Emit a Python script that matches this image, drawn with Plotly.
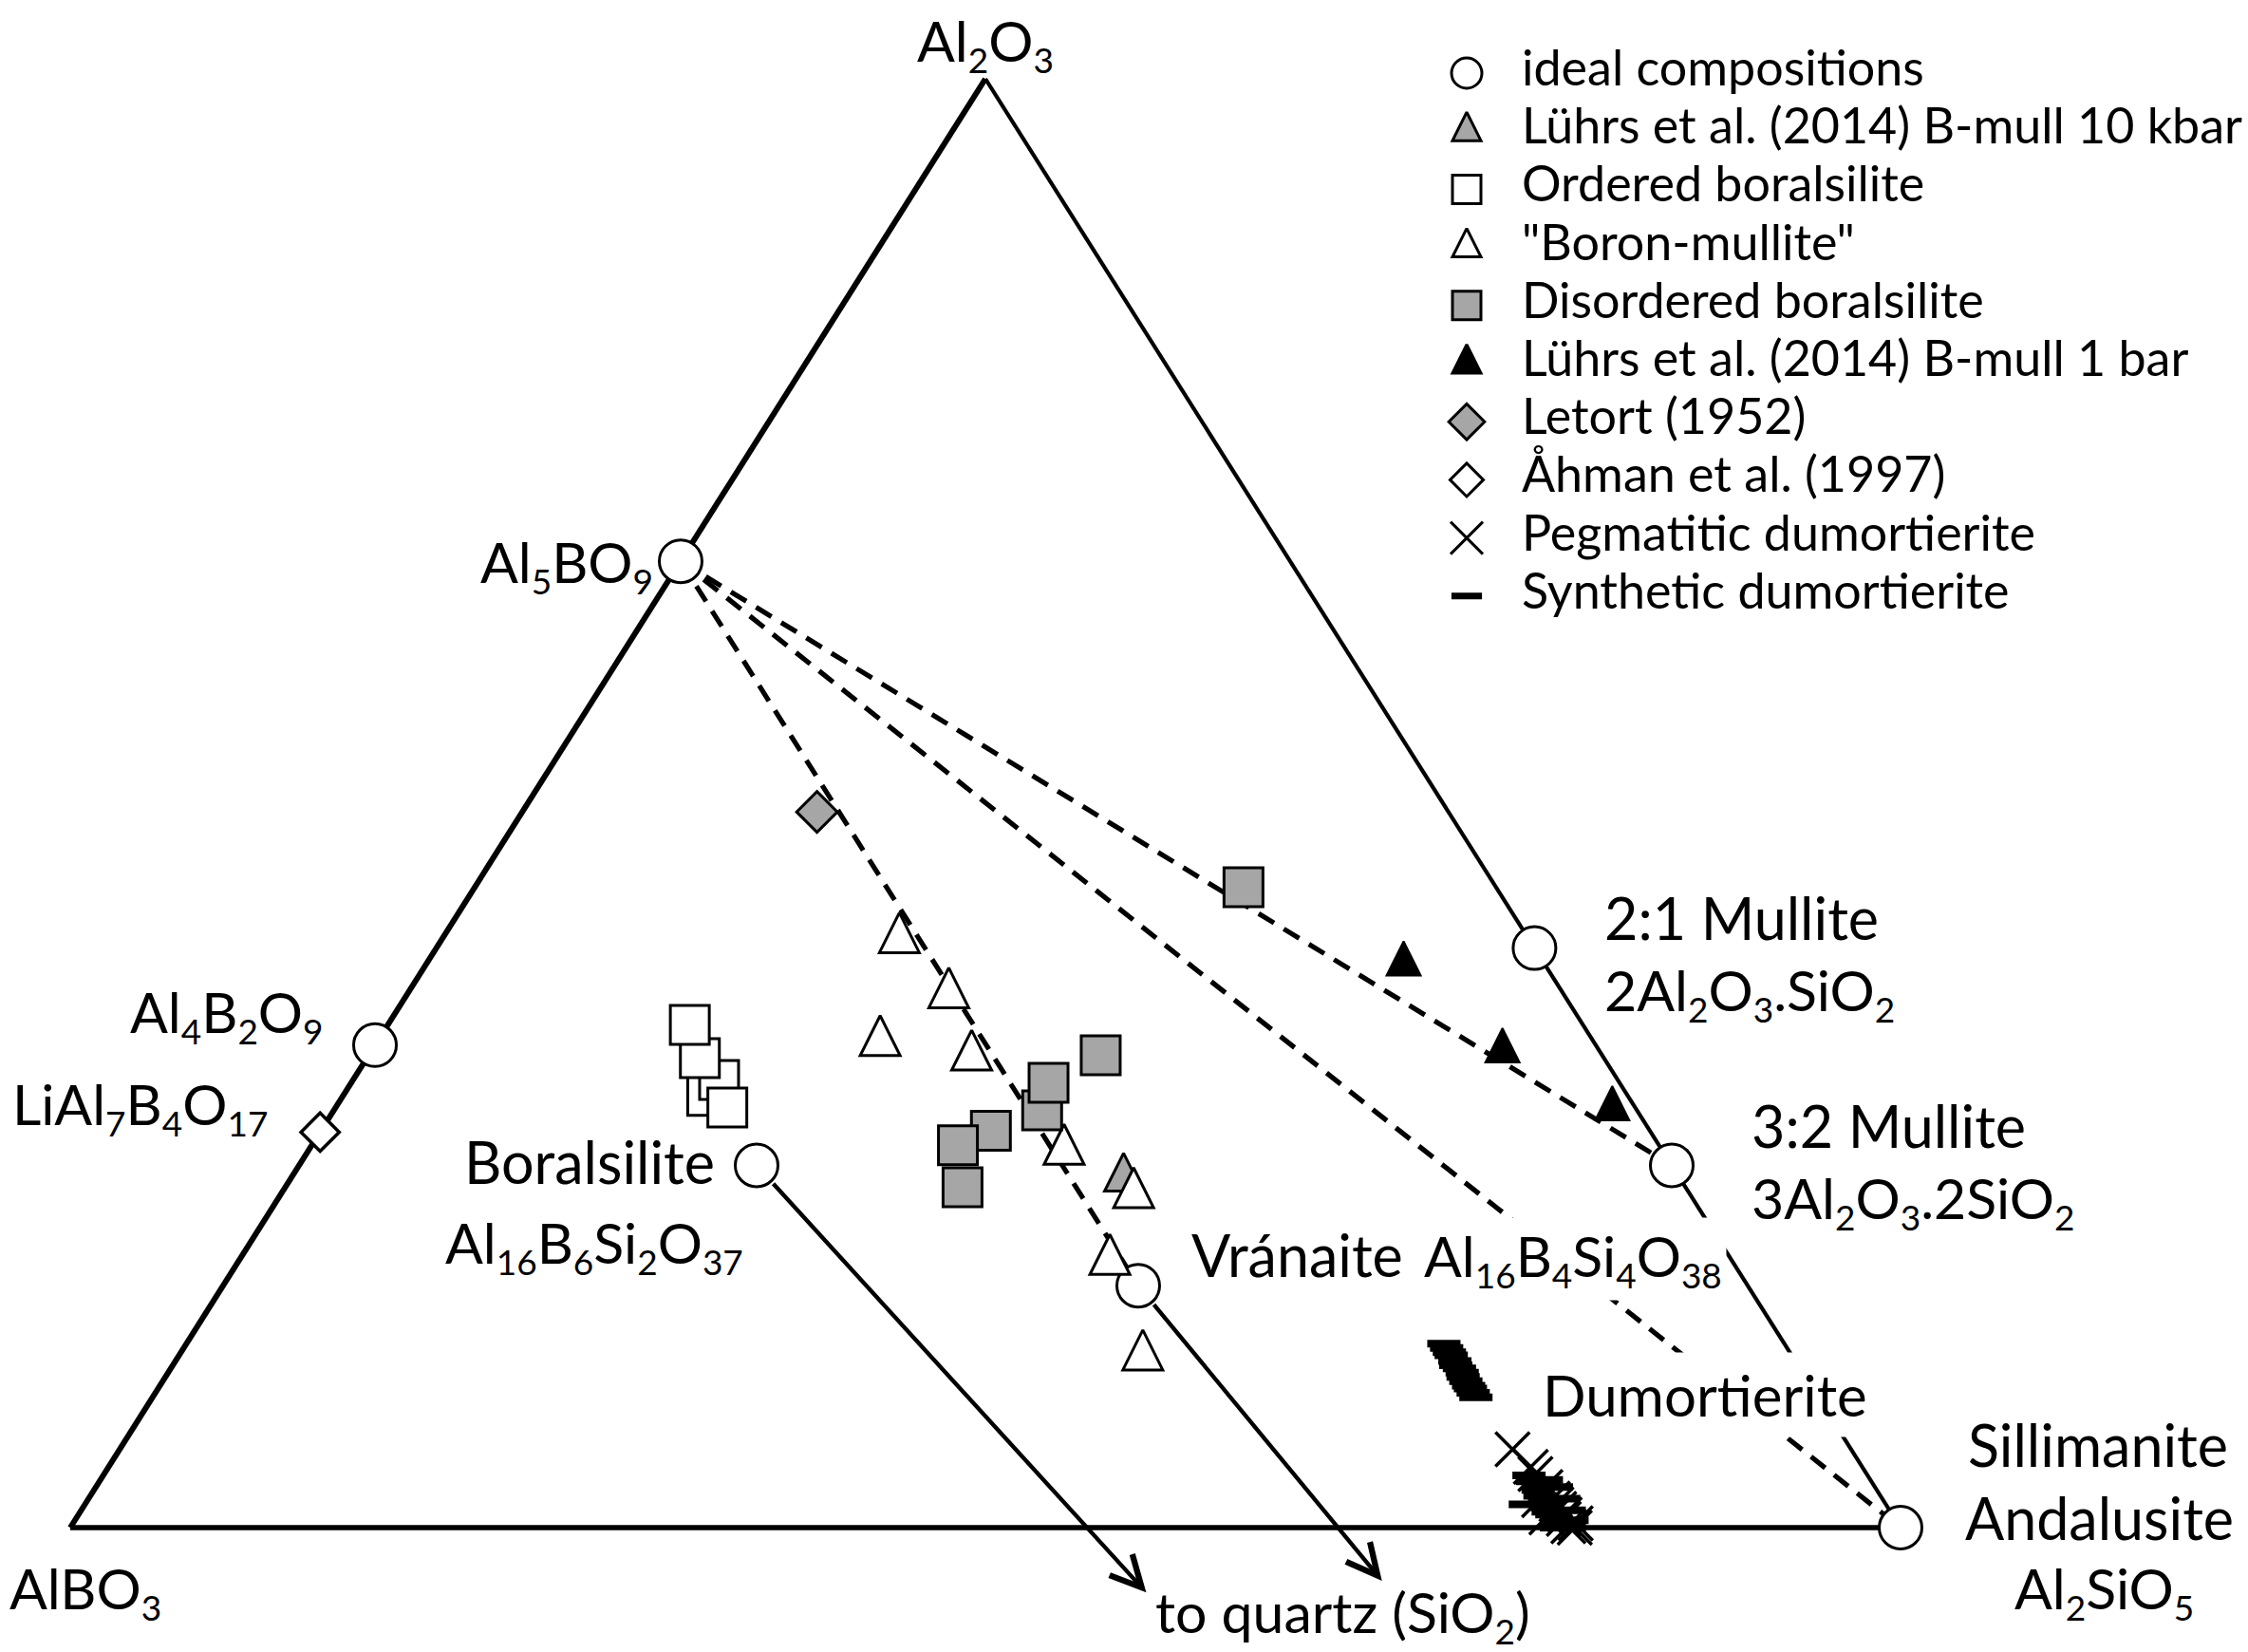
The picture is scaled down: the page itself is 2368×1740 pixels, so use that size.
import plotly.graph_objects as go

W, H = 2368, 1740
FONT = "Lato"
LABEL_SIZE = 61
FORMULA_SIZE = 59
SUB_PX = 37
KEY_SIZE = 52

# ---------------------------------------------------------------------------
# Compositions as cation fractions of Al2O3 and Al2SiO5 (AlBO3 = remainder)
# ---------------------------------------------------------------------------
ideal_names = ["Al5BO9", "Al4B2O9", "Boralsilite", "Vránaite",
               "2:1 Mullite", "3:2 Mullite", "Al2SiO5"]
ideal_al2o3 = [0.667, 0.333, 0.250, 0.167, 0.400, 0.250, 0.000]
ideal_al2sio5 = [0.000, 0.000, 0.250, 0.500, 0.600, 0.750, 1.000]

luhrs10_al2o3 = [0.241]
luhrs10_al2sio5 = [0.455]

ordered_al2o3 = [0.298, 0.309, 0.290, 0.324, 0.347]
ordered_al2sio5 = [0.199, 0.200, 0.214, 0.182, 0.165]

boronmullite_al2o3 = [0.406, 0.368, 0.335, 0.325, 0.260, 0.230, 0.184, 0.118]
boronmullite_al2sio5 = [0.250, 0.296, 0.275, 0.330, 0.413, 0.466, 0.476, 0.527]

disordered_al2o3 = [0.442, 0.326, 0.288, 0.307, 0.274, 0.264, 0.235]
disordered_al2sio5 = [0.420, 0.400, 0.387, 0.381, 0.366, 0.353, 0.370]

luhrs1_al2o3 = [0.389, 0.329, 0.289]
luhrs1_al2sio5 = [0.534, 0.618, 0.698]

letort_al2o3 = [0.494]
letort_al2sio5 = [0.161]

ahman_al2o3 = [0.273]
ahman_al2sio5 = [0.000]

pegmatitic_al2o3 = [0.054, 0.042, 0.037, 0.028, 0.020, 0.019, 0.016, 0.013,
                    0.009, 0.007, 0.006, 0.003, 0.001, 0.000]
pegmatitic_al2sio5 = [0.761, 0.777, 0.782, 0.792, 0.800, 0.793, 0.804, 0.807,
                      0.812, 0.803, 0.813, 0.821, 0.818, 0.822]

synthetic_al2o3 = [0.127, 0.124, 0.121, 0.119, 0.115, 0.112, 0.110, 0.107, 0.104,
                   0.101, 0.098, 0.096, 0.093, 0.090,
                   0.036, 0.033, 0.032, 0.029, 0.028, 0.026, 0.022, 0.020, 0.019,
                   0.017, 0.016, 0.014, 0.012, 0.011, 0.009, 0.009, 0.006, 0.005,
                   0.004, 0.003, 0.001, 0.000, 0.000]
synthetic_al2sio5 = [0.687, 0.690, 0.693, 0.695, 0.699, 0.701, 0.704, 0.707, 0.709,
                     0.712, 0.715, 0.717, 0.720, 0.723,
                     0.779, 0.790, 0.783, 0.790, 0.798, 0.789, 0.792, 0.806, 0.796,
                     0.798, 0.787, 0.800, 0.813, 0.802, 0.807, 0.805, 0.809, 0.818,
                     0.812, 0.814, 0.816, 0.812, 0.819]

# quartz in the same cation basis lies outside the triangle
sio2_al2o3, sio2_al2sio5 = -2.0, 3.0
arrow_sources = ["Boralsilite", "Vránaite"]
arrow_fraction = [0.131, 0.094]   # length of each arrow along its join to SiO2

tie_lines = [("Al5BO9", "Vránaite"), ("Al5BO9", "Al2SiO5"), ("Al5BO9", "3:2 Mullite")]

key_labels = ["ideal compositions", "Lührs et al. (2014) B-mull 10 kbar",
              "Ordered boralsilite", "\"Boron-mullite\"", "Disordered boralsilite",
              "Lührs et al. (2014) B-mull 1 bar", "Letort (1952)", "Åhman et al. (1997)",
              "Pegmatitic dumortierite", "Synthetic dumortierite"]

# ---------------------------------------------------------------------------
# page geometry of the diagram (pixels)
# ---------------------------------------------------------------------------
APEX_Y, BASE_Y = 83, 1609
LEFT_X, RIGHT_X = 74, 2002
SX = RIGHT_X - LEFT_X
SY = BASE_Y - APEX_Y

KEY_SYM_X, KEY_TEXT_X = 1545, 1603
KEY_ROW0_Y, KEY_PITCH = 77, 61.2

GRAY = "#a6a6a6"


def to_xy(al2o3, al2sio5):
    xs = [c + a / 2 for a, c in zip(al2o3, al2sio5)]
    ys = list(al2o3)
    return xs, ys


def ideal_point(name):
    i = ideal_names.index(name)
    return ideal_al2o3[i], ideal_al2sio5[i]


def sub(n):
    return f"<sub><span style='font-size:{SUB_PX}px'>{n}</span></sub>"


fig = go.Figure()

# triangle edges: AlBO3-Al2O3, Al2O3-Al2SiO5, AlBO3-Al2SiO5
edges = [((0, 0), (1, 0), 6), ((1, 0), (0, 1), 4.2), ((0, 0), (0, 1), 5.5)]
for (a0, c0), (a1, c1), w in edges:
    xs, ys = to_xy([a0, a1], [c0, c1])
    fig.add_trace(go.Scatter(x=xs, y=ys, mode="lines", showlegend=False,
                             hoverinfo="skip", line=dict(color="black", width=w)))

# dashed joins from Al5BO9
for p, q in tie_lines:
    a0, c0 = ideal_point(p)
    a1, c1 = ideal_point(q)
    xs, ys = to_xy([a0, a1], [c0, c1])
    fig.add_trace(go.Scatter(x=xs, y=ys, mode="lines", showlegend=False,
                             hoverinfo="skip",
                             line=dict(color="black", width=5.2, dash="19px,12px")))

TRI = dict(symbol="arrow-down", angle=180)

styles = {
    "ideal": dict(symbol="circle", color="white", size=45, lw=3),
    "luhrs10": dict(color=GRAY, size=40, lw=3, **TRI),
    "ordered": dict(symbol="square", color="white", size=41, lw=3),
    "boronmullite": dict(color="white", size=42, lw=3, **TRI),
    "disordered": dict(symbol="square", color=GRAY, size=41, lw=3),
    "luhrs1": dict(color="black", size=36, lw=2, **TRI),
    "letort": dict(symbol="diamond", color=GRAY, size=33, lw=3),
    "ahman": dict(symbol="diamond", color="white", size=31, lw=3.5),
    "pegmatitic": dict(symbol="x-thin", color="black", size=36, lw=3.5),
    "synthetic": dict(symbol="line-ew", color="black", size=25, lw=8),
}

series = [
    ("ideal", ideal_al2o3, ideal_al2sio5),
    ("ordered", ordered_al2o3, ordered_al2sio5),
    ("luhrs10", luhrs10_al2o3, luhrs10_al2sio5),
    ("boronmullite", boronmullite_al2o3, boronmullite_al2sio5),
    ("disordered", disordered_al2o3, disordered_al2sio5),
    ("luhrs1", luhrs1_al2o3, luhrs1_al2sio5),
    ("letort", letort_al2o3, letort_al2sio5),
    ("ahman", ahman_al2o3, ahman_al2sio5),
    ("pegmatitic", pegmatitic_al2o3, pegmatitic_al2sio5),
    ("synthetic", synthetic_al2o3, synthetic_al2sio5),
]
key_order = ["ideal", "luhrs10", "ordered", "boronmullite", "disordered",
             "luhrs1", "letort", "ahman", "pegmatitic", "synthetic"]


def marker_for(st, size, lw=None):
    m = dict(symbol=st["symbol"], color=st["color"], size=size,
             line=dict(color="black", width=st["lw"] if lw is None else lw))
    if "angle" in st:
        m["angle"] = st["angle"]
        m["standoff"] = size * 2 / 3
    return m


for key, al, si in series:
    st = styles[key]
    xs, ys = to_xy(al, si)
    fig.add_trace(go.Scatter(x=xs, y=ys, mode="markers", showlegend=False,
                             name=key_labels[key_order.index(key)],
                             marker=marker_for(st, st["size"]), cliponaxis=False))

# key: symbols in column 0, labels starting at column 1
key_sizes = {"ideal": 32, "luhrs10": 30, "ordered": 30, "boronmullite": 30,
             "disordered": 30, "luhrs1": 30, "letort": 29, "ahman": 27,
             "pegmatitic": 34, "synthetic": 23}
key_widths = {"pegmatitic": 3, "synthetic": 7}
for row, key in enumerate(key_order):
    st = styles[key]
    m = marker_for(st, key_sizes[key], key_widths.get(key, 3))
    fig.add_trace(go.Scatter(x=[0], y=[row], xaxis="x2", yaxis="y2", mode="markers",
                             showlegend=False, hoverinfo="skip", marker=m,
                             cliponaxis=False))
fig.add_trace(go.Scatter(x=[1] * len(key_labels), y=list(range(len(key_labels))),
                         xaxis="x2", yaxis="y2", mode="text", text=key_labels,
                         textposition="middle right", showlegend=False,
                         hoverinfo="skip", cliponaxis=False,
                         textfont=dict(family=FONT, size=KEY_SIZE, color="black")))

annotations = []

# arrows toward quartz
for name, frac in zip(arrow_sources, arrow_fraction):
    a0, c0 = ideal_point(name)
    a1 = a0 + frac * (sio2_al2o3 - a0)
    c1 = c0 + frac * (sio2_al2sio5 - c0)
    (x0,), (y0,) = to_xy([a0], [c0])
    (x1,), (y1,) = to_xy([a1], [c1])
    annotations.append(dict(x=x1, y=y1, ax=x0, ay=y0, xref="x", yref="y",
                            axref="x", ayref="y", text="", showarrow=True,
                            arrowhead=5, arrowsize=1.45, arrowwidth=4.4,
                            arrowcolor="black", startstandoff=24, standoff=0))


def label(text, at, xanchor="left", xshift=0, yshift=0, bg=None, pad=2,
          size=LABEL_SIZE):
    (x,), (y,) = to_xy([at[0]], [at[1]])
    d = dict(x=x, y=y, xref="x", yref="y", text=text, showarrow=False,
             xanchor=xanchor, yanchor="middle", xshift=xshift, yshift=yshift,
             font=dict(family=FONT, size=size, color="black"))
    if bg:
        d.update(bgcolor=bg, borderpad=pad)
    annotations.append(d)


F = FORMULA_SIZE
label(f"Al{sub(2)}O{sub(3)}", (1, 0), "center", 0, 37, size=F)
label(f"Al{sub(5)}BO{sub(9)}", ideal_point("Al5BO9"), "right", -27, -4, size=F)
label(f"Al{sub(4)}B{sub(2)}O{sub(9)}", ideal_point("Al4B2O9"), "right", -52, 32, size=F)
label(f"LiAl{sub(7)}B{sub(4)}O{sub(17)}", (ahman_al2o3[0], ahman_al2sio5[0]),
      "right", -53, 26, size=F)
label("Boralsilite", ideal_point("Boralsilite"), "right", -42, 4)
label(f"Al{sub(16)}B{sub(6)}Si{sub(2)}O{sub(37)}", ideal_point("Boralsilite"),
      "right", -12, -84, size=F)
label("Vránaite", ideal_point("Vránaite"), "left", 54, 33)
label(f"Al{sub(16)}B{sub(4)}Si{sub(4)}O{sub(38)}", ideal_point("Vránaite"),
      "left", 296, 28, bg="white", pad=4, size=F)
label("Dumortierite", (0.092, 0.756), "left", -4, 0, bg="white", pad=8, size=60)
label("2:1 Mullite", ideal_point("2:1 Mullite"), "left", 72, 32)
label(f"2Al{sub(2)}O{sub(3)}.SiO{sub(2)}", ideal_point("2:1 Mullite"), "left", 72, -47, size=F)
label("3:2 Mullite", ideal_point("3:2 Mullite"), "left", 82, 42)
label(f"3Al{sub(2)}O{sub(3)}.2SiO{sub(2)}", ideal_point("3:2 Mullite"), "left", 82, -37, size=F)
label("Sillimanite", ideal_point("Al2SiO5"), "center", 208, 88)
label("Andalusite", ideal_point("Al2SiO5"), "center", 209, 11)
label(f"Al{sub(2)}SiO{sub(5)}", ideal_point("Al2SiO5"), "center", 214, -67, size=F)
label(f"AlBO{sub(3)}", (0, 0), "left", -66, -67, size=F)
label(f"to quartz (SiO{sub(2)})", (-0.064, 0.624), "left", 0, 6, size=F)

fig.update_layout(
    width=W, height=H, autosize=False,
    margin=dict(l=0, r=0, t=0, b=0, pad=0),
    paper_bgcolor="white", plot_bgcolor="rgba(0,0,0,0)",
    showlegend=False,
    font=dict(family=FONT, color="black"),
    xaxis=dict(visible=False, range=[-LEFT_X / SX, (W - LEFT_X) / SX], domain=[0, 1]),
    yaxis=dict(visible=False, range=[-(H - BASE_Y) / SY, BASE_Y / SY], domain=[0, 1]),
    xaxis2=dict(visible=False, overlaying="x", anchor="y2",
                range=[-KEY_SYM_X / (KEY_TEXT_X - KEY_SYM_X),
                       (W - KEY_SYM_X) / (KEY_TEXT_X - KEY_SYM_X)]),
    yaxis2=dict(visible=False, overlaying="y", anchor="x2",
                range=[(H - KEY_ROW0_Y) / KEY_PITCH, -KEY_ROW0_Y / KEY_PITCH]),
    annotations=annotations,
)

fig.write_html("out.html")
